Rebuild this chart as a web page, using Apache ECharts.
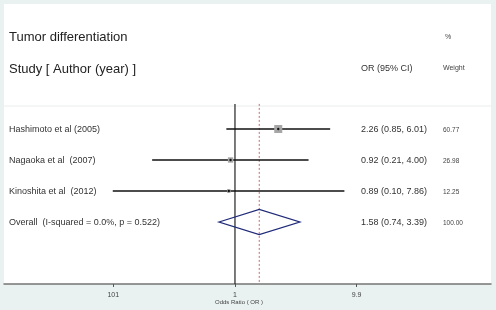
<!DOCTYPE html>
<html><head><meta charset="utf-8">
<script src="https://cdn.jsdelivr.net/npm/echarts@6/dist/echarts.min.js"></script>
<style>html,body{margin:0;padding:0;background:#e9f1f1;}#c{width:496px;height:310px;}</style>
</head><body><div id="c"></div>
<script>
// ---- data ----
const studies = ['Hashimoto et al (2005)', 'Nagaoka et al  (2007)', 'Kinoshita et al  (2012)'];
const orEst = [2.26, 0.92, 0.89];
const ciLow = [0.85, 0.21, 0.10];
const ciHigh = [6.01, 4.00, 7.86];
const weights = [60.77, 26.98, 12.25];
const overallLabel = 'Overall  (I-squared = 0.0%, p = 0.522)';
const overallEst = [1.58];
const overallLow = [0.74];
const overallHigh = [3.39];
const overallWeight = [100.00];
const tickValues = [0.101, 1, 9.9];
const tickLabels = ['101', '1', '9.9'];
const nullValue = 1;

const FONT = 'Liberation Sans, Arial, sans-serif';
const lg = v => Math.log10(v);

const rows = studies.map((s, i) => [i + 1, lg(orEst[i]), lg(ciLow[i]), lg(ciHigh[i]), weights[i], i]);
const ovRow = [[studies.length + 1, lg(overallEst[0]), lg(overallLow[0]), lg(overallHigh[0]), overallWeight[0]]];
const fmtCI = (e, l, h) => e.toFixed(2) + ' (' + l.toFixed(2) + ', ' + h.toFixed(2) + ')';
const Y_TOP = 0.19, Y_BOTTOM = 6;

const chart = echarts.init(document.getElementById('c'));
chart.setOption({
  backgroundColor: '#e9f1f1',
  animation: false,
  grid: { left: 4, right: 5, top: 4, bottom: 26, show: true, backgroundColor: '#ffffff', borderWidth: 0, outerBoundsMode: 'none' },
  xAxis: {
    type: 'value', min: -1.890, max: 2.095,
    splitLine: { show: false },
    axisLine: { show: true, onZero: false, lineStyle: { color: '#767676', width: 1.5 } },
    axisTick: { show: true, customValues: tickValues.map(lg), length: 3, lineStyle: { color: '#555' } },
    axisLabel: {
      customValues: tickValues.map(lg), fontSize: 7, color: '#444', fontFamily: FONT, margin: 8,
      formatter: v => {
        let best = 0, d = Infinity;
        tickValues.forEach((t, i) => { const dd = Math.abs(lg(t) - v); if (dd < d) { d = dd; best = i; } });
        return tickLabels[best];
      }
    }
  },
  yAxis: { type: 'value', inverse: true, min: -3.032, max: 6, show: false },
  graphic: [
    { type: 'text', left: 9, top: 31, style: { text: 'Tumor differentiation', font: '13px ' + FONT, fill: '#222' } },
    { type: 'text', left: 9, top: 63, style: { text: 'Study [ Author (year) ]', font: '13px ' + FONT, fill: '#222' } },
    { type: 'text', left: 361, top: 64, style: { text: 'OR (95% CI)', font: '9px ' + FONT, fill: '#333' } },
    { type: 'text', left: 445, top: 34, style: { text: '%', font: '7px ' + FONT, fill: '#444' } },
    { type: 'text', left: 443, top: 65, style: { text: 'Weight', font: '7px ' + FONT, fill: '#444' } },
    { type: 'line', shape: { x1: 4, y1: 106, x2: 491, y2: 106 }, style: { stroke: '#eaeeee', lineWidth: 1 } },
    { type: 'text', left: 215, top: 299, style: { text: 'Odds Ratio ( OR )', font: '6px ' + FONT, fill: '#444' } }
  ],
  series: [
    {
      type: 'custom', z: 2,
      data: [[lg(nullValue), 0], [lg(overallEst[0]), 1]],
      renderItem: (params, api) => {
        const x = api.value(0), kind = api.value(1);
        const p1 = api.coord([x, Y_TOP]), p2 = api.coord([x, Y_BOTTOM]);
        return {
          type: 'line', shape: { x1: p1[0], y1: p1[1], x2: p2[0], y2: p2[1] },
          style: kind === 0 ? { stroke: '#222', lineWidth: 1.2 } : { stroke: '#c9697a', lineWidth: 1, lineDash: [2, 2] }
        };
      }
    },
    {
      type: 'custom', z: 3,
      data: rows,
      renderItem: (params, api) => {
        const y = api.value(0), e = api.value(1), l = api.value(2), h = api.value(3), w = api.value(4), idx = api.value(5);
        const pl = api.coord([l, y]), ph = api.coord([h, y]), pe = api.coord([e, y]);
        const side = Math.sqrt(w) * 1.03;
        return {
          type: 'group', children: [
            { type: 'line', shape: { x1: pl[0], y1: pl[1], x2: ph[0], y2: ph[1] }, style: { stroke: '#111', lineWidth: 1.3 } },
            { type: 'rect', shape: { x: pe[0] - side / 2, y: pe[1] - side / 2, width: side, height: side }, style: { fill: '#a6a6a6' } },
            { type: 'circle', shape: { cx: pe[0], cy: pe[1], r: 1.2 }, style: { fill: '#111' } },
            { type: 'text', x: 9, y: pe[1] + 1, style: { text: studies[idx], font: '9px ' + FONT, fill: '#333', verticalAlign: 'middle' } },
            { type: 'text', x: 361, y: pe[1] + 1, style: { text: fmtCI(orEst[idx], ciLow[idx], ciHigh[idx]), font: '9px ' + FONT, fill: '#333', verticalAlign: 'middle' } },
            { type: 'text', x: 443, y: pe[1] + 1, style: { text: weights[idx].toFixed(2), font: '6.5px ' + FONT, fill: '#444', verticalAlign: 'middle' } }
          ]
        };
      }
    },
    {
      type: 'custom', z: 3,
      data: ovRow,
      renderItem: (params, api) => {
        const y = api.value(0), e = api.value(1), l = api.value(2), h = api.value(3);
        const pl = api.coord([l, y]), ph = api.coord([h, y]), pe = api.coord([e, y]);
        const hh = 12.5;
        return {
          type: 'group', children: [
            { type: 'polygon', shape: { points: [[pl[0], pl[1]], [pe[0], pe[1] - hh], [ph[0], ph[1]], [pe[0], pe[1] + hh]] }, style: { fill: 'none', stroke: '#1f2a78', lineWidth: 1.3 } },
            { type: 'text', x: 9, y: pe[1] + 1, style: { text: overallLabel, font: '9px ' + FONT, fill: '#333', verticalAlign: 'middle' } },
            { type: 'text', x: 361, y: pe[1] + 1, style: { text: fmtCI(overallEst[0], overallLow[0], overallHigh[0]), font: '9px ' + FONT, fill: '#333', verticalAlign: 'middle' } },
            { type: 'text', x: 443, y: pe[1] + 1, style: { text: overallWeight[0].toFixed(2), font: '6.5px ' + FONT, fill: '#444', verticalAlign: 'middle' } }
          ]
        };
      }
    }
  ]
});
</script></body></html>
